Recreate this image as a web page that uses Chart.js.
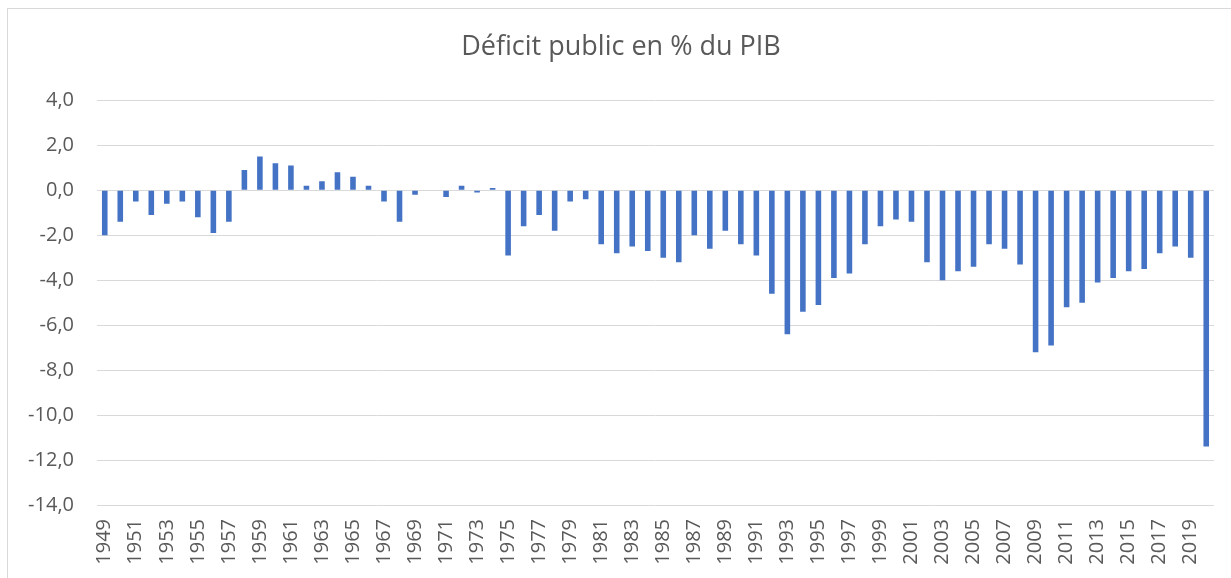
<!DOCTYPE html>
<html lang="fr">
<head>
    <meta charset="UTF-8">
    <title>Déficit public en % du PIB</title>
    <script src="https://cdn.jsdelivr.net/npm/chart.js"></script>
    <style>
        html, body { margin: 0; padding: 0; background: #fff; }
        #frame {
            position: absolute;
            left: 7px; top: 8px;
            width: 1240px; height: 600px;
            border: 1px solid #d9d9d9;
        }
        #wrap {
            position: absolute;
            left: 0; top: 0;
            width: 1231px; height: 578px;
        }
    </style>
</head>
<body>
    <div id="frame"></div>
    <div id="wrap"><canvas id="deficitChart"></canvas></div>
    <script>
        const years = [
            '1949','1950','1951','1952','1953','1954','1955','1956','1957','1958',
            '1959','1960','1961','1962','1963','1964','1965','1966','1967','1968',
            '1969','1970','1971','1972','1973','1974','1975','1976','1977','1978',
            '1979','1980','1981','1982','1983','1984','1985','1986','1987','1988',
            '1989','1990','1991','1992','1993','1994','1995','1996','1997','1998',
            '1999','2000','2001','2002','2003','2004','2005','2006','2007','2008',
            '2009','2010','2011','2012','2013','2014','2015','2016','2017','2018',
            '2019','2020'
        ];

        const deficit = [
            -2.0, -1.4, -0.5, -1.1, -0.6, -0.5, -1.2, -1.9, -1.4, 0.9,
            1.5, 1.2, 1.1, 0.2, 0.4, 0.8, 0.6, 0.2, -0.5, -1.4,
            -0.2, 0.0, -0.3, 0.2, -0.1, 0.1, -2.9, -1.6, -1.1, -1.8,
            -0.5, -0.4, -2.4, -2.8, -2.5, -2.7, -3.0, -3.2, -2.0, -2.6,
            -1.8, -2.4, -2.9, -4.6, -6.4, -5.4, -5.1, -3.9, -3.7, -2.4,
            -1.6, -1.3, -1.4, -3.2, -4.0, -3.6, -3.4, -2.4, -2.6, -3.3,
            -7.2, -6.9, -5.2, -5.0, -4.1, -3.9, -3.6, -3.5, -2.8, -2.5,
            -3.0, -11.4
        ];

        const yMin = -14, yMax = 4, yStep = 2;
        const textColor = '#595959';
        const fontFamily = '"Open Sans", "DejaVu Sans", sans-serif';

        new Chart(document.getElementById('deficitChart'), {
            type: 'bar',
            data: {
                labels: years,
                datasets: [{
                    label: 'Déficit public en % du PIB',
                    data: deficit,
                    backgroundColor: '#4472C4',
                    borderWidth: 0,
                    barPercentage: 0.36,
                    categoryPercentage: 1.0
                }]
            },
            options: {
                responsive: true,
                maintainAspectRatio: false,
                animation: false,
                layout: {
                    padding: { left: 28, right: 17, top: 20, bottom: 13 }
                },
                plugins: {
                    legend: { display: false },
                    tooltip: { enabled: false },
                    title: {
                        display: true,
                        text: 'Déficit public en % du PIB',
                        color: textColor,
                        font: { family: fontFamily, size: 27, weight: 'normal' },
                        padding: { top: 11, bottom: 37 }
                    }
                },
                scales: {
                    x: {
                        grid: { display: false, drawTicks: false },
                        border: { display: false },
                        afterFit: function (scale) {
                            scale.height = 60;
                            scale.paddingLeft = 0;
                            scale.paddingRight = 0;
                        },
                        ticks: {
                            color: textColor,
                            font: { family: fontFamily, size: 20 },
                            autoSkip: false,
                            maxRotation: 90,
                            minRotation: 90,
                            padding: 14,
                            callback: function (value, index) {
                                return index % 2 === 0 ? years[index] : '';
                            }
                        }
                    },
                    y: {
                        min: yMin,
                        max: yMax,
                        grid: { color: '#d9d9d9', lineWidth: 1, drawTicks: false },
                        border: { display: false },
                        afterFit: function (scale) { scale.width = 69; },
                        ticks: {
                            stepSize: yStep,
                            color: textColor,
                            font: { family: fontFamily, size: 20 },
                            padding: 23,
                            callback: function (value) {
                                return value.toFixed(1).replace('.', ',');
                            }
                        }
                    }
                }
            }
        });
    </script>
</body>
</html>
